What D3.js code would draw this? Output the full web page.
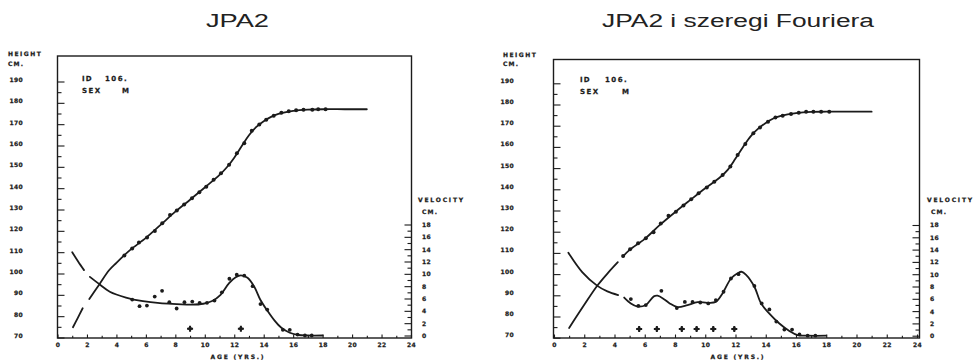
<!DOCTYPE html>
<html><head><meta charset="utf-8">
<script src="https://cdn.jsdelivr.net/npm/d3@7"></script>
<style>
body{margin:0;background:#fff;}
svg{display:block;}
.lab{font-family:"DejaVu Sans",sans-serif;font-weight:bold;fill:#1b1b1b;stroke:#1b1b1b;stroke-width:0.25px;}
.title{font-family:"Liberation Sans",Arial,sans-serif;fill:#222;}
</style></head><body>
<svg id="c" width="976" height="363"></svg>
<script>
// ---------- data ----------
const ageTicks = [0,2,4,6,8,10,12,14,16,18,20,22,24];
const heightTicks = [70,80,90,100,110,120,130,140,150,160,170,180,190];
const velocityTicks = [0,2,4,6,8,10,12,14,16,18];
const titles = ["JPA2", "JPA2 i szeregi Fouriera"];
const idText = ["ID", "106."];
const sexText = ["SEX", "M"];

// left panel: JPA2
const jpaHeightPoints = [[4.54,108.4],[5.07,111.7],[5.53,114.5],[6.08,116.9],[6.61,119.9],[7.11,123.6],[7.64,127.4],[8.1,129.5],[8.6,132.3],[9.13,135.3],[9.63,138.1],[10.1,140.7],[10.6,143.9],[11.1,147],[11.65,151],[12.18,156.4],[12.68,161.1],[13.19,166.9],[13.7,169.8],[14.17,172.1],[14.68,174],[15.2,175.3],[15.7,176],[16.2,176.5],[16.7,176.8],[17.3,176.8],[17.7,177],[18.2,177]];
const jpaHeightEarly = [[1.05,74.8],[1.38,79.2],[1.71,83.7]];
const jpaHeightCurve = [[2.16,88.0],[2.85,95.0],[3.5,101.5],[4.0,105.0],[4.54,108.6],[5,111.4],[6,116.7],[7,122.8],[8,129],[9,134.6],[10,140.3],[11,146.2],[11.5,149.8],[12,154.3],[12.5,159.6],[13,164.8],[13.5,168.7],[14,171.4],[14.5,173.4],[15,174.8],[16,176.2],[17,176.8],[18,177],[19.5,177],[21,177]];
const jpaVelocityPoints = [[5.07,5.83],[5.57,4.76],[6.07,4.86],[6.6,6.32],[7.1,7.24],[7.59,5.4],[8.09,4.38],[8.62,5.4],[9.15,5.5],[9.65,5.3],[10.15,5.3],[10.66,5.67],[11.16,7.0],[11.67,9.2],[12.17,9.85],[12.68,9.7],[13.25,8.0],[13.78,5.1],[14.24,4.2],[15.3,0.92],[15.77,0.92],[16.3,0.15],[16.8,0],[17.26,0]];
const jpaVelocityEarly = [[1.0,13.5],[1.4,12.0],[1.8,10.6]];
const jpaVelocityCurve = [[2.2,9.5],[2.85,8.3],[3.55,7.1],[4.65,6.15],[5.8,5.56],[6.95,5.24],[8.1,5.1],[9.1,5.0],[9.9,5.15],[10.5,5.6],[11.07,6.6],[11.65,8.5],[12.1,9.45],[12.45,9.75],[12.9,9.35],[13.36,7.9],[13.77,5.8],[14.24,4.05],[14.74,2.4],[15.2,1.25],[15.77,0.45],[16.35,0.08],[17,0],[18,0]];
const jpaMarkers = [9.0,12.45];

// right panel: JPA2 i szeregi Fouriera
const fourierHeightPoints = [[4.57,108.5],[5.03,111.7],[5.56,114.5],[6.07,116.9],[6.58,119.7],[7.06,123.9],[7.57,127.5],[8.06,129.4],[8.56,132.3],[9.07,135.3],[9.56,138.1],[10.1,140.9],[10.6,143.6],[11.15,146.7],[11.66,150.7],[12.14,156.2],[12.65,161.4],[13.18,166.4],[13.62,169.2],[14.15,171.9],[14.64,173.9],[15.12,174.7],[15.67,175.5],[16.18,176.1],[16.67,176.6],[17.15,176.6],[17.66,176.6],[18.2,176.6]];
const fourierHeightEarly = [[1.0,74.6],[2.0,85.5],[2.87,94.6],[3.6,100.8],[4.22,105.6]];
const fourierHeightCurve = [[4.55,108.3],[5,111.4],[6,116.6],[7,123.2],[8,129.2],[9,134.9],[10,140.5],[11,145.8],[11.5,149.3],[12,154.5],[12.5,160],[13,165],[13.5,168.6],[14,171.3],[14.5,173.4],[15,174.6],[16,175.9],[17,176.5],[18,176.6],[21,176.6]];
const fourierVelocityPoints = [[5.08,5.95],[5.58,4.86],[6.07,4.98],[7.1,7.3],[8.12,4.5],[8.65,5.5],[9.16,5.5],[9.67,5.4],[10.2,5.25],[10.7,5.8],[11.21,7.15],[11.7,9.3],[12.2,10.0],[13.25,8.1],[13.73,5.25],[14.24,4.27],[14.7,2.3],[15.23,1.0],[15.74,1.0],[16.23,0.2],[16.77,0],[17.28,0]];
const fourierVelocityEarly = [[0.95,13.5],[1.88,10.3],[2.87,8.1],[3.53,7.2],[4.24,6.6]];
const fourierVelocityCurve = [[4.64,6.2],[5.08,5.25],[5.52,4.75],[6.07,5.0],[6.6,6.4],[6.85,6.5],[7.3,5.9],[7.65,5.25],[8.17,4.65],[8.83,4.98],[9.49,5.45],[10.15,5.35],[10.7,5.5],[11.15,6.9],[11.7,9.3],[12.14,10.15],[12.4,10.4],[12.7,9.9],[13.25,7.96],[13.69,5.25],[14.24,3.6],[14.9,1.99],[15.56,0.78],[16.1,0.1],[16.8,0],[18,0]];
const fourierMarkers = [5.63,6.8,8.45,9.43,10.53,11.92];
const markerLevel = 1.1;

// ---------- layout ----------
const panels = [
  {title:titles[0], titleX:237.5, titleLen:63,
   box:{l:57.5,r:411.5,t:56,b:338}, xr:[57.5,411], yh:[337.5,81.5], yv:[335.5,224.5],
   hLabEnd:23, hLabDy:-2, vLabStart:422, hLab:[8,55.5,65.5], vLab:[418,202,422,214],
   id:[82,80.5,105], sex:[82,92.5,122], ageTitle:[238,358.5],
   hPts:jpaHeightPoints, hEarly:jpaHeightEarly, hMain:jpaHeightCurve,
   vPts:jpaVelocityPoints, vEarly:jpaVelocityEarly, vMain:jpaVelocityCurve, markers:jpaMarkers},
  {title:titles[1], titleX:738, titleLen:272,
   box:{l:553.5,r:919.5,t:59.5,b:338}, xr:[554,917], yh:[337.7,83.3], yv:[335.7,225],
   hLabEnd:514, hLabDy:-3, vLabStart:930, hLab:[503,57,65.5], vLab:[927,202,931,214],
   id:[580,81.5,605], sex:[580,94,622], ageTitle:[738,358.5],
   hPts:fourierHeightPoints, hEarly:fourierHeightEarly, hMain:fourierHeightCurve,
   vPts:fourierVelocityPoints, vEarly:fourierVelocityEarly, vMain:fourierVelocityCurve, markers:fourierMarkers}
];

const svg = d3.select("#c");
const ink = "#1b1b1b";

panels.forEach(p => {
  const g = svg.append("g");
  const x = d3.scaleLinear().domain([0,24]).range(p.xr);
  const yH = d3.scaleLinear().domain([70,190]).range(p.yh);
  const yV = d3.scaleLinear().domain([0,18]).range(p.yv);

  // title
  g.append("text").attr("class","title").attr("x",p.titleX).attr("y",27)
    .attr("text-anchor","middle").attr("font-size",18)
    .attr("textLength",p.titleLen).attr("lengthAdjust","spacingAndGlyphs").text(p.title);

  // box
  g.append("rect").attr("x",p.box.l).attr("y",p.box.t)
    .attr("width",p.box.r-p.box.l).attr("height",p.box.b-p.box.t)
    .attr("fill","none").attr("stroke",ink).attr("stroke-width",1.4);

  function styleAxis(sel){
    sel.select(".domain").remove();
    sel.selectAll("line").attr("stroke",ink).attr("stroke-width",1.1);
    sel.selectAll("text").attr("class","lab").attr("font-size",6).attr("letter-spacing",0.3);
  }

  // height axis labels
  g.append("g").attr("transform",`translate(${p.box.l},${p.hLabDy})`)
    .call(d3.axisLeft(yH).tickValues(heightTicks).tickSize(0).tickPadding(p.box.l-p.hLabEnd))
    .call(styleAxis);
  // height ticks major / minor (inside)
  g.append("g").attr("transform",`translate(${p.box.l},0)`)
    .call(d3.axisLeft(yH).tickValues(heightTicks).tickSize(-7).tickFormat(""))
    .call(styleAxis);
  g.append("g").attr("transform",`translate(${p.box.l},0)`)
    .call(d3.axisLeft(yH).tickValues(d3.range(75,190,10)).tickSize(-4).tickFormat(""))
    .call(styleAxis);

  // age axis
  g.append("g").attr("transform",`translate(0,${p.box.b})`)
    .call(d3.axisBottom(x).tickValues(ageTicks).tickSize(0).tickPadding(5))
    .call(styleAxis);
  g.append("g").attr("transform",`translate(0,${p.box.b})`)
    .call(d3.axisBottom(x).tickValues(ageTicks).tickSize(-3.5).tickFormat(""))
    .call(styleAxis);
  g.append("g").attr("transform",`translate(0,${p.box.b})`)
    .call(d3.axisBottom(x).tickValues(d3.range(1,24,2)).tickSize(-2.2).tickFormat(""))
    .call(styleAxis);

  // velocity axis
  g.append("g").attr("transform",`translate(${p.box.r},0)`)
    .call(d3.axisRight(yV).tickValues(velocityTicks).tickSize(0).tickPadding(p.vLabStart-p.box.r))
    .call(styleAxis);
  g.append("g").attr("transform",`translate(${p.box.r},0)`)
    .call(d3.axisRight(yV).tickValues(velocityTicks).tickSize(-7).tickFormat(""))
    .call(styleAxis);
  g.append("g").attr("transform",`translate(${p.box.r},0)`)
    .call(d3.axisRight(yV).tickValues(d3.range(1,18,2)).tickSize(-4).tickFormat(""))
    .call(styleAxis);

  // axis titles
  const lab = (t,xx,yy,fs,ls,anchor) => g.append("text").attr("class","lab").attr("x",xx).attr("y",yy)
      .attr("font-size",fs).attr("letter-spacing",ls).attr("text-anchor",anchor||"start").text(t);
  lab("HEIGHT",p.hLab[0],p.hLab[1],6,1.5);
  lab("CM.",p.hLab[0],p.hLab[2],6,1.2);
  lab("VELOCITY",p.vLab[0],p.vLab[1],6,1.8);
  lab("CM.",p.vLab[2],p.vLab[3],6,1.2);
  lab("AGE (YRS.)",p.ageTitle[0],p.ageTitle[1],6,1.8,"middle");
  lab(idText[0],p.id[0],p.id[1],7,1.2);
  lab(idText[1],p.id[2],p.id[1],7,1.5);
  lab(sexText[0],p.sex[0],p.sex[1],7,1.5);
  lab(sexText[1],p.sex[2],p.sex[1],7,1);

  // curves
  const lineH = d3.line().x(d=>x(d[0])).y(d=>yH(d[1])).curve(d3.curveCatmullRom.alpha(0.5));
  const lineV = d3.line().x(d=>x(d[0])).y(d=>yV(d[1])).curve(d3.curveCatmullRom.alpha(0.5));
  [[p.hEarly,lineH],[p.hMain,lineH],[p.vEarly,lineV],[p.vMain,lineV]].forEach(([d,l]) => {
    g.append("path").datum(d).attr("d",l).attr("fill","none")
      .attr("stroke",ink).attr("stroke-width",1.8).attr("stroke-linecap","round");
  });

  // points
  g.append("g").selectAll("circle").data(p.hPts).join("circle")
    .attr("cx",d=>x(d[0])).attr("cy",d=>yH(d[1])).attr("r",2).attr("fill",ink);
  g.append("g").selectAll("circle").data(p.vPts).join("circle")
    .attr("cx",d=>x(d[0])).attr("cy",d=>yV(d[1])).attr("r",1.9).attr("fill",ink);

  // markers
  const mk = g.append("g").selectAll("g").data(p.markers).join("g")
    .attr("transform",d=>`translate(${x(d)},${yV(markerLevel)})`);
  mk.append("path").attr("d",d3.symbol(d3.symbolCross,20)).attr("fill",ink);
  mk.append("path").attr("d",d3.symbol(d3.symbolSquare,14)).attr("transform","rotate(45)").attr("fill",ink);
});
</script>
</body></html>
